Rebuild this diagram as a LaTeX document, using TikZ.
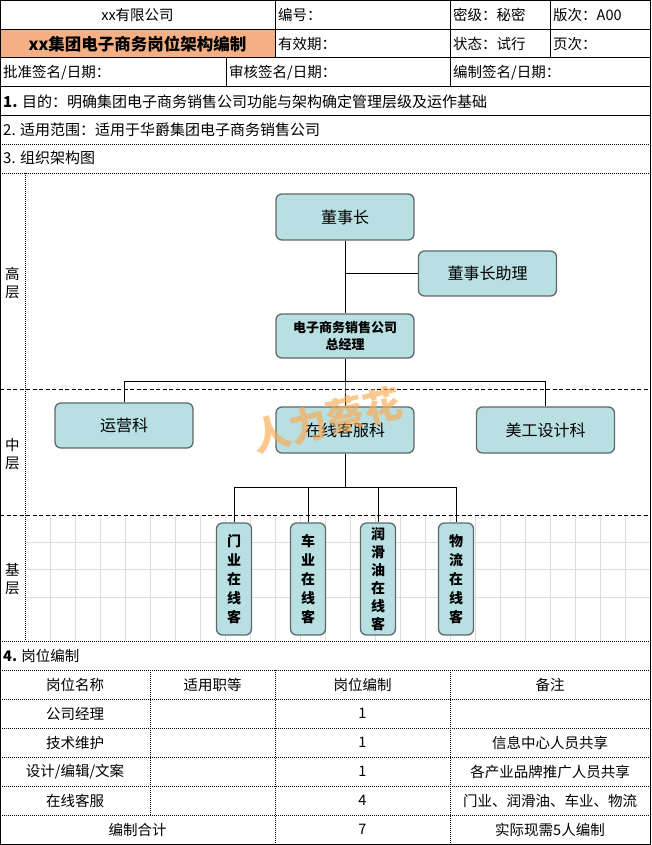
\documentclass[tikz,border=0pt]{standalone}
\usepackage{fontspec}
\setmainfont{Noto Sans CJK SC}
\definecolor{headfill}{RGB}{244,176,132}
\definecolor{boxfill}{RGB}{184,223,226}
\definecolor{boxline}{RGB}{95,105,105}
\definecolor{gridgray}{RGB}{220,220,220}
\definecolor{markorange}{RGB}{252,170,80}
\begin{document}
\begin{tikzpicture}[x=1pt,y=-1pt,
				txt/.style={inner sep=0pt,font=\fontsize{14.5}{16}\selectfont},
				lefttxt/.style={txt,anchor=west},
				rule/.style={line width=1pt},
				dotrule/.style={line width=0.8pt,dash pattern=on 1pt off 1pt},
				dashrule/.style={line width=0.8pt,dash pattern=on 4pt off 2.5pt},
				orgbox/.style={draw=boxline,line width=1.3pt,fill=boxfill,rounded corners=6pt,inner sep=0pt,
					minimum width=138pt,minimum height=46pt,align=center,font=\fontsize{16}{18}\selectfont},
				staffbox/.style={orgbox,minimum width=35pt,minimum height=112pt,font=\fontsize{14}{19}\bfseries\selectfont},
				edge from parent/.style={draw,line width=1pt},
				level 1/.style={level distance=119pt},
				level 2/.style={sibling distance=210pt,level distance=94pt,
					edge from parent path={(\tikzparentnode.south) -- ++(0,23) -| (\tikzchildnode.north)}},
				level 3/.style={sibling distance=74pt,level distance=149pt,
					edge from parent path={(\tikzparentnode.south) -- ++(0,34) -| (\tikzchildnode.north)}}]
\useasboundingbox (0,0) rectangle (651,845);
\fill[headfill] (0,30) rectangle (275,58);
\foreach \gx in {50,75,...,625} \draw[gridgray,line width=0.8pt] (\gx,515) -- (\gx,641);
\foreach \gy in {542,569,597} \draw[gridgray,line width=0.8pt] (25,\gy) -- (650,\gy);
\draw[rule] (0.5,0.5) rectangle (650.5,844.5);
\draw[rule] (0,30) -- (650,30) (0,58) -- (650,58) (0,87) -- (650,87) (0,116) -- (650,116);
\draw[rule] (275,0) -- (275,58) (450,0) -- (450,87) (550,0) -- (550,58) (226,58) -- (226,87);
\draw[dotrule] (0,144) -- (650,144) (0,173) -- (650,173) (25,173) -- (25,641) (0,641) -- (650,641);
\draw[dotrule] (0,670) -- (650,670) (0,699) -- (650,699) (0,728) -- (650,728) (0,757) -- (650,757)
	(0,786) -- (650,786) (0,815) -- (650,815);
\draw[dotrule] (150,670) -- (150,815) (275,670) -- (275,844) (450,670) -- (450,844);
\draw[dashrule] (0,389) -- (650,389) (0,515) -- (650,515);

\node[txt] (company) at (137.5,15) {xx有限公司};
\node[lefttxt] (docno) at (278,15) {编号：};
\node[lefttxt] (secret) at (453,15) {密级：秘密};
\node[lefttxt] (version) at (553,15) {版次：A00};
\node[txt,font=\fontsize{16.5}{18}\bfseries\selectfont] (title) at (137.5,44) {xx集团电子商务岗位架构编制};
\node[lefttxt] (valid) at (278,44) {有效期：};
\node[lefttxt] (state) at (453,44) {状态：试行};
\node[lefttxt] (page) at (553,44) {页次：};
\node[lefttxt] (approve) at (3,73) {批准签名/日期：};
\node[lefttxt] (review) at (229,73) {审核签名/日期：};
\node[lefttxt] (compile) at (453,73) {编制签名/日期：};
\node[lefttxt,font=\fontsize{15}{17}\selectfont] (aim) at (3,102) {\textbf{1.} 目的：明确集团电子商务销售公司功能与架构确定管理层级及运作基础};
\node[lefttxt,font=\fontsize{15}{17}\selectfont] (scope) at (3,130) {2. 适用范围：适用于华爵集团电子商务销售公司};
\node[lefttxt,font=\fontsize{15}{17}\selectfont] (chart) at (3,158) {3. 组织架构图};
\node[txt,align=center,font=\fontsize{14.5}{17.5}\selectfont] (high) at (12.5,283) {高\\层};
\node[txt,align=center,font=\fontsize{14.5}{17.5}\selectfont] (mid) at (12.5,454) {中\\层};
\node[txt,align=center,font=\fontsize{14.5}{17.5}\selectfont] (base) at (12.5,579) {基\\层};

\node[orgbox] (chair) at (345,217) {董事长}
child { node[orgbox,minimum height=44pt,font=\fontsize{13}{17}\bfseries\selectfont] (gm) {电子商务销售公司\\总经理}
	child { node[orgbox,xshift=-11pt,yshift=4.5pt,minimum height=45pt] (ops) {运营科} }
	child { node[orgbox] (cs) {在线客服科}
		child { node[staffbox] (door) {门\\业\\在\\线\\客} }
		child { node[staffbox] (car) {车\\业\\在\\线\\客} }
		child { node[staffbox,xshift=-4pt,font=\fontsize{14}{18}\bfseries\selectfont] (oil) {润\\滑\\油\\在\\线\\客} }
		child { node[staffbox] (logi) {物\\流\\在\\线\\客} } }
	child { node[orgbox,xshift=-9.5pt] (art) {美工设计科} }
};
\node[orgbox,minimum height=45pt] (aide) at (487.5,273.5) {董事长助理};
\draw[line width=1pt] (aide.west) -- (aide.west -| chair.south);

\node[lefttxt,font=\fontsize{14.5}{16}\selectfont] (staffing) at (3,656) {\textbf{4.} 岗位编制};
\node[txt] (colname) at (75,684.5) {岗位名称};
\node[txt] (colgrade) at (212.5,684.5) {适用职等};
\node[txt] (colcount) at (362.5,684.5) {岗位编制};
\node[txt] (colnote) at (550,684.5) {备注};
\node[txt] (nmgr) at (75,713.5) {公司经理};
\node[txt] (cmgr) at (362.5,713.5) {1};
\node[txt] (ntech) at (75,742.5) {技术维护};
\node[txt] (ctech) at (362.5,742.5) {1};
\node[txt] (rtech) at (550,742.5) {信息中心人员共享};
\node[txt] (ndesign) at (75,771.5) {设计/编辑/文案};
\node[txt] (cdesign) at (362.5,771.5) {1};
\node[txt] (rdesign) at (550,771.5) {各产业品牌推广人员共享};
\node[txt] (nsvc) at (75,800.5) {在线客服};
\node[txt] (csvc) at (362.5,800.5) {4};
\node[txt] (rsvc) at (550,800.5) {门业、润滑油、车业、物流};
\node[txt] (ntotal) at (137.5,829.5) {编制合计};
\node[txt] (ctotal) at (362.5,829.5) {7};
\node[txt] (rtotal) at (550,829.5) {实际现需5人编制};

\node[font=\fontsize{38}{38}\bfseries\selectfont,text=markorange,opacity=0.65,rotate=14] (mark) at (327,420) {人力蔡花};
\end{tikzpicture}
\end{document}
